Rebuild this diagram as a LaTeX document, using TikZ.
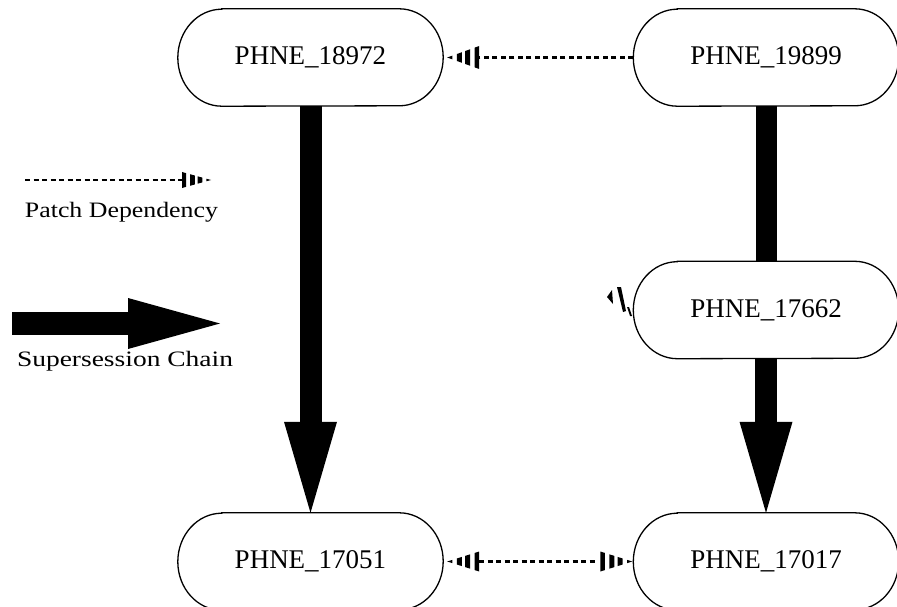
\documentclass[tikz,border=0pt]{standalone}
\usepackage{fontspec}
\setmainfont{Liberation Serif}
\usetikzlibrary{arrows.meta}
\tikzset{
  pkg/.style={rectangle, minimum width=265pt, minimum height=97pt, inner sep=0pt,
    font=\fontsize{27}{31}\selectfont},
  nodeline/.style={draw=black, line width=1.3pt},
  dep/.style={draw=black, line width=2.3pt, dash pattern=on 5pt off 3.5pt},
  chain/.style={draw=black, line width=22pt, -{Triangle[length=91pt,width=53pt,line width=0pt]}},
  chainline/.style={draw=black, line width=21pt},
  legendtext/.style={font=\fontsize{22}{26}\selectfont, anchor=base, inner sep=0pt},
  pics/shead/.style args={#1/#2}{code={
    \foreach \a/\b in {0/0.16,0.30/0.46,0.56/0.72,0.86/1.0}{
      \fill[black] ({-\a*#1},{\a*#2}) -- ({-\b*#1},{\b*#2}) -- ({-\b*#1},{-\b*#2}) -- ({-\a*#1},{-\a*#2}) -- cycle;
    }
  }}
}
\newcommand\drawstadium[1]{%
  \draw[nodeline] ([xshift=44pt]#1.north west) -- ([xshift=-44pt]#1.north east)
    arc[start angle=90,end angle=-90,x radius=44pt,y radius=48.5pt]
    -- ([xshift=44pt]#1.south west)
    arc[start angle=270,end angle=90,x radius=44pt,y radius=48.5pt] -- cycle;}
\begin{document}
\begin{tikzpicture}[x=1pt,y=-1pt]
\useasboundingbox (0,0) rectangle (897,607);
% nodes
\node[pkg] (A) at (310.5,57.5) {PHNE\_18972};
\node[pkg] (B) at (766,57.5) {PHNE\_19899};
\node[pkg] (C) at (766,310) {PHNE\_17662};
\node[pkg] (D) at (310.5,561.5) {PHNE\_17051};
\node[pkg] (E) at (766,561.5) {PHNE\_17017};
% supersession chains
\draw[chain] (A.south) -- (D.north);
\draw[chainline] (B.south) -- (C.north);
\draw[chain] (C.south) -- (E.north);
% outlines
\drawstadium{A}
\drawstadium{B}
\drawstadium{C}
\drawstadium{D}
\drawstadium{E}
% patch dependencies
\draw[dep, shorten >=36pt] (B.west) -- (A.east);
\pic[rotate=180] at ([xshift=4pt]A.east) {shead=32/11.5};
\draw[dep, shorten <=36pt, shorten >=36pt] (D.east) -- (E.west);
\pic[rotate=180] at ([xshift=4pt]D.east) {shead=32/10};
\pic at ([xshift=-1pt]E.west) {shead=32/10};
% stray head near PHNE_17662
\fill[black] (607,297) -- (612,290) -- (613,304) -- cycle;
\fill[black] (617,287) -- (621,287) -- (626,311) -- (623,312) -- cycle;
\fill[black] (627,307) -- (629,307) -- (632,316) -- (630,316) -- cycle;
% legend
\coordinate (l1) at (25,180);
\coordinate (l2) at (211,180);
\draw[dep, shorten >=29pt] (l1) -- (l2);
\pic at (l2) {shead=29/8};
\node[legendtext] (t1) at (121.5,217) {\resizebox{193pt}{\height}{Patch Dependency}};
\coordinate (f1) at (12,323.5);
\coordinate (f2) at (220,323.5);
\draw[line width=23pt, -{Triangle[length=92pt,width=51pt,line width=0pt]}] (f1) -- (f2);
\node[legendtext] (t2) at (125,366) {\resizebox{216pt}{\height}{Supersession Chain}};
\end{tikzpicture}
\end{document}
